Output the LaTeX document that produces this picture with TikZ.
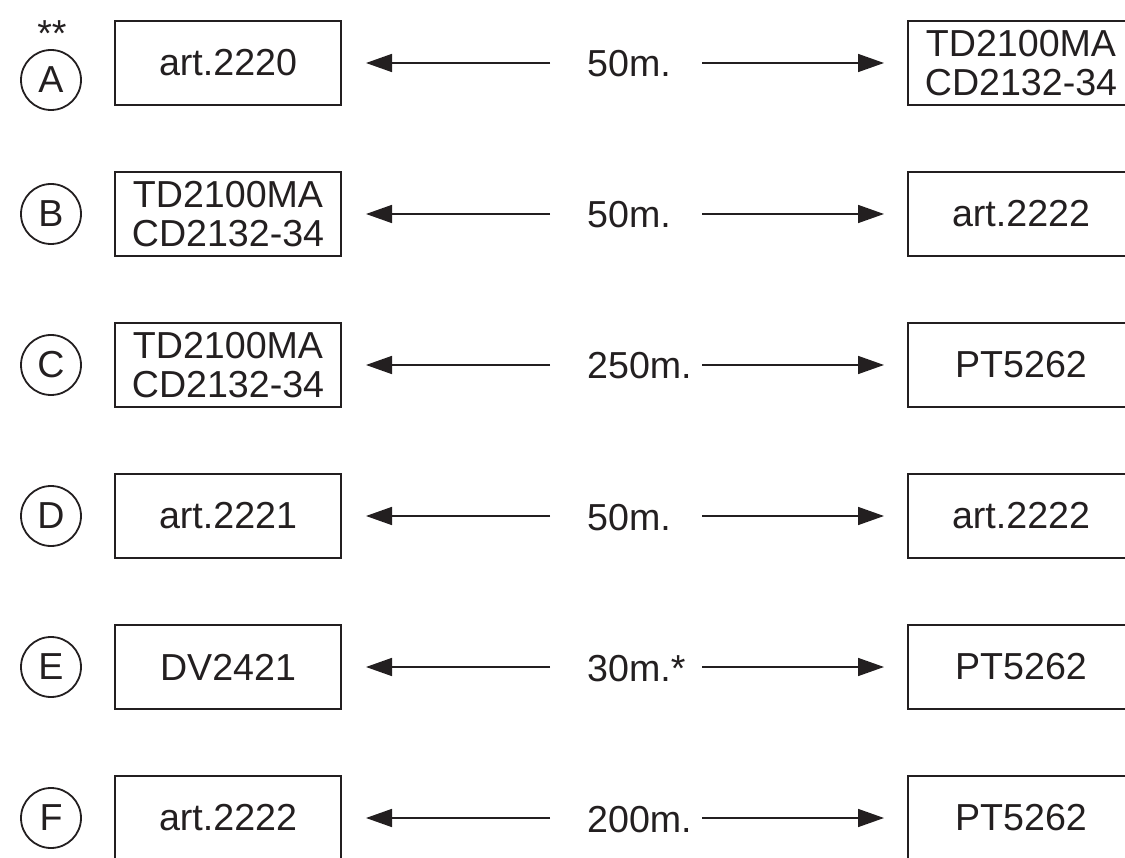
\documentclass[tikz,border=0pt]{standalone}
\usepackage{fontspec}
\setmainfont{Liberation Sans}
\usetikzlibrary{arrows.meta}
\definecolor{ink}{HTML}{231F20}
\begin{document}
\begin{tikzpicture}[x=1pt,y=-1pt,
  bigfont/.style={font=\fontsize{37.6}{39}\selectfont},
  box/.style={draw=ink, line width=2pt, minimum width=226pt, minimum height=84pt,
    inner sep=0pt, align=center, text=ink, bigfont},
  tag/.style={circle, draw=ink, line width=1.8pt, minimum size=60pt, inner sep=0pt,
    text=ink, bigfont},
  dist/.style={anchor=base west, inner sep=0pt, text=ink, bigfont},
  arr/.style={draw=ink, line width=1.6pt, -{Triangle[length=26pt,width=18pt]}}]
\useasboundingbox (0,0) rectangle (1125,858);
\clip (0,0) rectangle (1125,858);

\node[anchor=base, inner sep=0pt, text=ink, bigfont] (ast) at (52,47) {**};

% Row A
\node[tag] (tA) at (51,80) {A};
\node[box] (lA) at (228,63) {art.2220};
\node[box] (rA) at (1021,63) {TD2100MA\\CD2132-34};
\node[dist] (dA) at (587,77) {50m.};
\coordinate (mlA) at (550,63); \coordinate (mrA) at (702,63);
\draw[arr, shorten >=24pt] (mlA) -- (lA.east);
\draw[arr, shorten >=23pt] (mrA) -- (rA.west);

% Row B
\node[tag] (tB) at (51,214) {B};
\node[box] (lB) at (228,214) {TD2100MA\\CD2132-34};
\node[box] (rB) at (1021,214) {art.2222};
\node[dist] (dB) at (587,228) {50m.};
\coordinate (mlB) at (550,214); \coordinate (mrB) at (702,214);
\draw[arr, shorten >=24pt] (mlB) -- (lB.east);
\draw[arr, shorten >=23pt] (mrB) -- (rB.west);

% Row C
\node[tag] (tC) at (51,365) {C};
\node[box] (lC) at (228,365) {TD2100MA\\CD2132-34};
\node[box] (rC) at (1021,365) {PT5262};
\node[dist] (dC) at (587,379) {250m.};
\coordinate (mlC) at (550,365); \coordinate (mrC) at (702,365);
\draw[arr, shorten >=24pt] (mlC) -- (lC.east);
\draw[arr, shorten >=23pt] (mrC) -- (rC.west);

% Row D
\node[tag] (tD) at (51,516) {D};
\node[box] (lD) at (228,516) {art.2221};
\node[box] (rD) at (1021,516) {art.2222};
\node[dist] (dD) at (587,530) {50m.};
\coordinate (mlD) at (550,516); \coordinate (mrD) at (702,516);
\draw[arr, shorten >=24pt] (mlD) -- (lD.east);
\draw[arr, shorten >=23pt] (mrD) -- (rD.west);

% Row E
\node[tag] (tE) at (51,667) {E};
\node[box] (lE) at (228,667) {DV2421};
\node[box] (rE) at (1021,667) {PT5262};
\node[dist] (dE) at (587,681) {30m.*};
\coordinate (mlE) at (550,667); \coordinate (mrE) at (702,667);
\draw[arr, shorten >=24pt] (mlE) -- (lE.east);
\draw[arr, shorten >=23pt] (mrE) -- (rE.west);

% Row F
\node[tag] (tF) at (51,818) {F};
\node[box] (lF) at (228,818) {art.2222};
\node[box] (rF) at (1021,818) {PT5262};
\node[dist] (dF) at (587,832) {200m.};
\coordinate (mlF) at (550,818); \coordinate (mrF) at (702,818);
\draw[arr, shorten >=24pt] (mlF) -- (lF.east);
\draw[arr, shorten >=23pt] (mrF) -- (rF.west);
\end{tikzpicture}
\end{document}
